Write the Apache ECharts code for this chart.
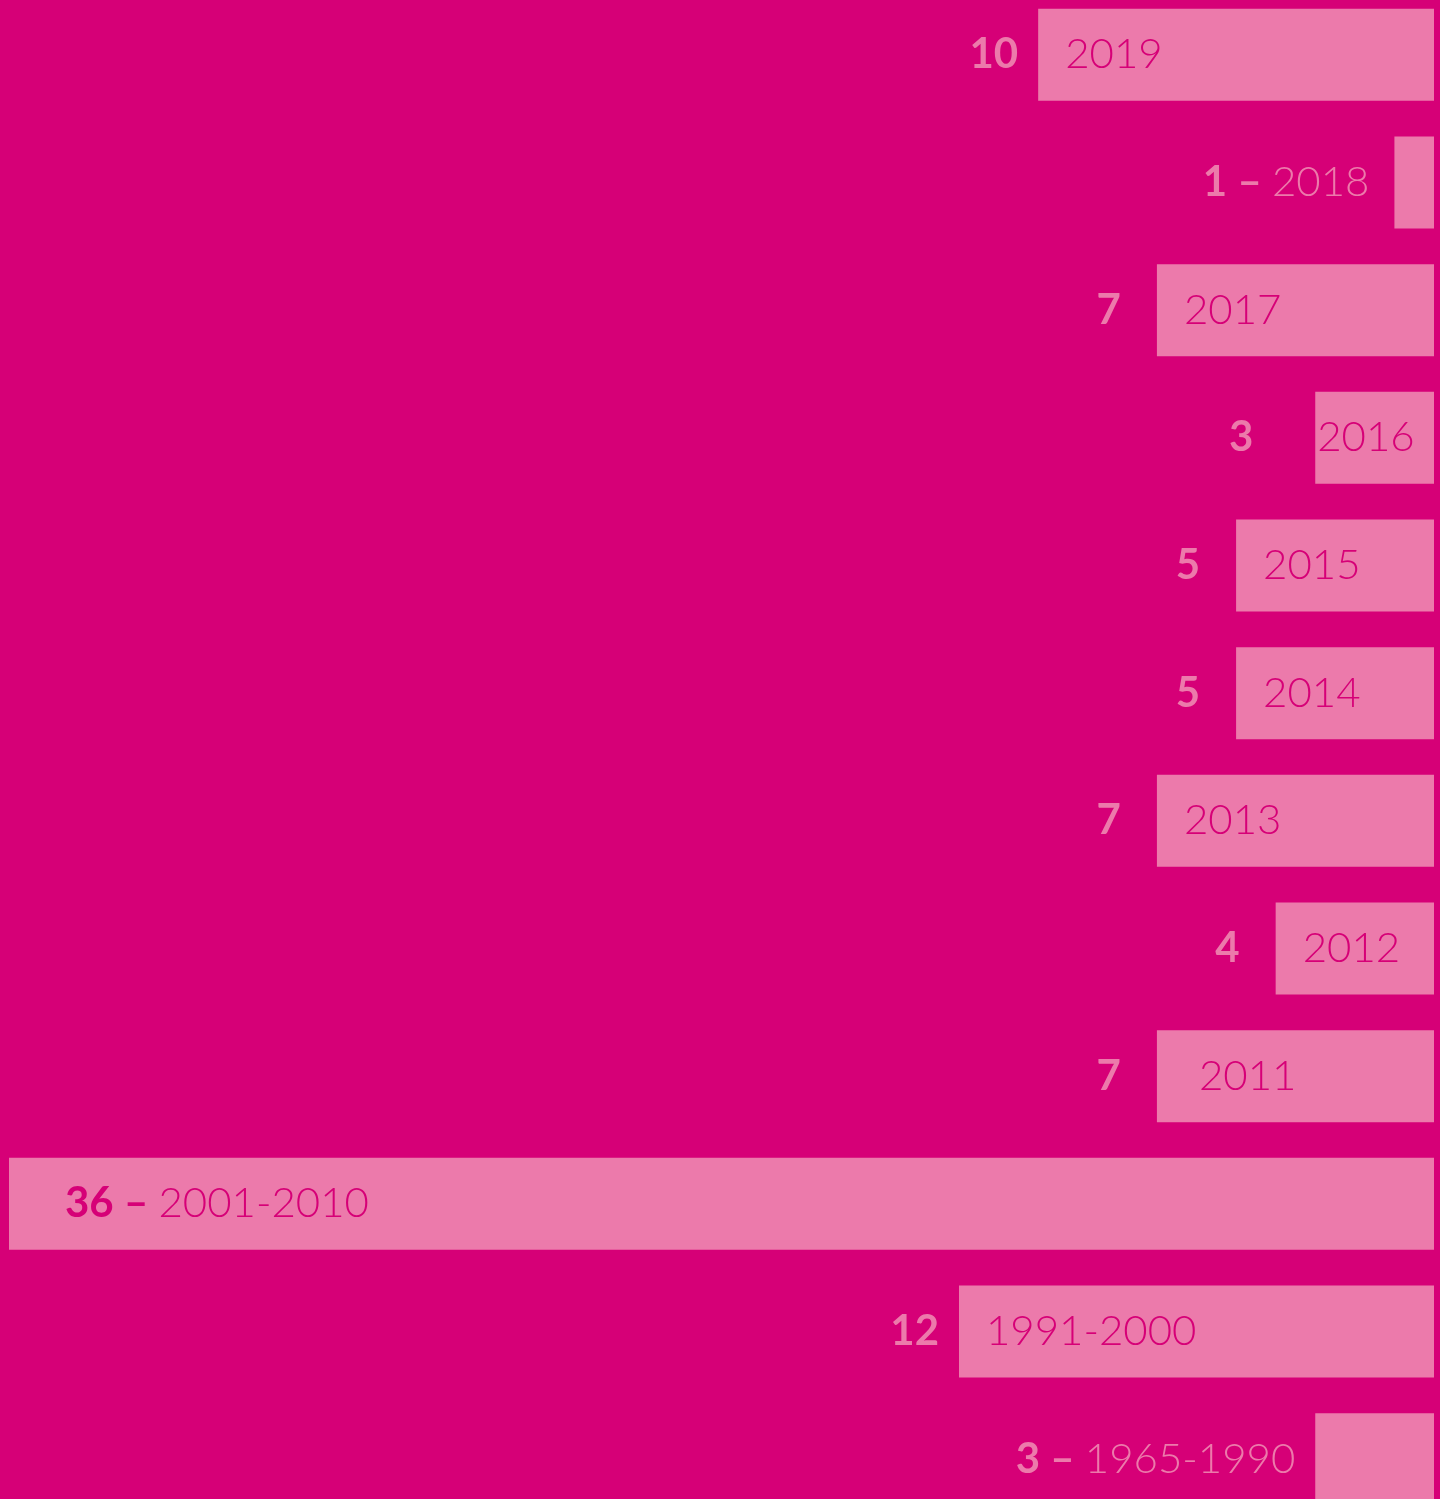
<!DOCTYPE html>
<html>
<head>
<meta charset="utf-8">
<script src="https://cdn.jsdelivr.net/npm/echarts@6/dist/echarts.min.js"></script>
<style>
  html, body { margin: 0; padding: 0; background: #D60077; overflow: hidden; }
  /* the last bar runs past the bottom edge, so the canvas is taller than the window */
  #chart { position: absolute; left: 0; top: -9px; width: 1440px; height: 1532px; }
</style>
</head>
<body>
<div id="chart"></div>
<script>
var categories = ['2019', '2018', '2017', '2016', '2015', '2014', '2013', '2012', '2011', '2001-2010', '1991-2000', '1965-1990'];
var counts = [10, 1, 7, 3, 5, 5, 7, 4, 7, 36, 12, 3];
// rows where the whole "n – year" text sits outside the bar, or inside it
var outsideRows = ['2018', '1965-1990'];
var insideRows = ['2001-2010'];

var bg = '#D60077';
var pink = '#EC7AAB';
var font = 'Lato';

var chartDom = document.getElementById('chart');
var chart = echarts.init(chartDom);

// bars + year text inside the bar
var yearData = counts.map(function (v, i) {
    var cat = categories[i];
    var item = { value: v };
    if (outsideRows.indexOf(cat) >= 0 || insideRows.indexOf(cat) >= 0) {
        item.label = { show: false };
    } else if (cat === '2016') {
        item.label = { offset: [2, 0] };
    } else if (cat === '2011') {
        item.label = { offset: [42, 0] };
    }
    return item;
});

// count numbers left of the bar
var countData = counts.map(function (v, i) {
    var cat = categories[i];
    var item = { value: v };
    if (outsideRows.indexOf(cat) >= 0) {
        item.label = {
            distance: cat === '2018' ? 25 : 20,
            formatter: '{b|' + v + '}{d| – }{y|' + cat + '}',
            rich: {
                b: { fontFamily: font, fontWeight: 'bold', fontSize: 42, color: pink },
                d: { fontFamily: font, fontWeight: 'bold', fontSize: 42, color: pink },
                y: { fontFamily: font, fontWeight: 300, fontSize: 42, color: pink }
            }
        };
    } else if (insideRows.indexOf(cat) >= 0) {
        item.label = {
            align: 'left',
            distance: 0,
            offset: [56, 0],
            formatter: '{b|' + v + '}{d| – }{y|' + cat + '}',
            rich: {
                b: { fontFamily: font, fontWeight: 'bold', fontSize: 42, color: bg },
                d: { fontFamily: font, fontWeight: 'bold', fontSize: 42, color: bg },
                y: { fontFamily: font, fontWeight: 300, fontSize: 42, color: bg }
            }
        };
    } else if (cat === '2016') {
        item.label = { distance: 62 };
    } else if (cat === '2019' || cat === '1991-2000') {
        item.label = { distance: 20 };
    } else {
        item.label = { distance: 36 };
    }
    return item;
});

var option = {
    backgroundColor: bg,
    animation: false,
    grid: {
        left: 9,
        right: 6,
        top: 0,
        bottom: 0
    },
    xAxis: {
        type: 'value',
        inverse: true,
        min: 0,
        max: 36,
        show: false
    },
    yAxis: {
        type: 'category',
        inverse: true,
        data: categories,
        show: false
    },
    series: [
        {
            name: 'year',
            type: 'bar',
            barWidth: 92,
            barGap: '-100%',
            itemStyle: { color: pink },
            label: {
                show: true,
                position: 'left',
                align: 'left',
                distance: 0,
                offset: [27, 0],
                formatter: '{b}',
                fontFamily: font,
                fontWeight: 300,
                fontSize: 42,
                color: bg
            },
            data: yearData
        },
        {
            name: 'count',
            type: 'bar',
            barWidth: 92,
            barGap: '-100%',
            itemStyle: { color: 'rgba(0,0,0,0)' },
            label: {
                show: true,
                position: 'left',
                distance: 30,
                formatter: '{c}',
                fontFamily: font,
                fontWeight: 'bold',
                fontSize: 42,
                color: pink
            },
            data: countData
        }
    ]
};
chart.setOption(option);
</script>
</body>
</html>
